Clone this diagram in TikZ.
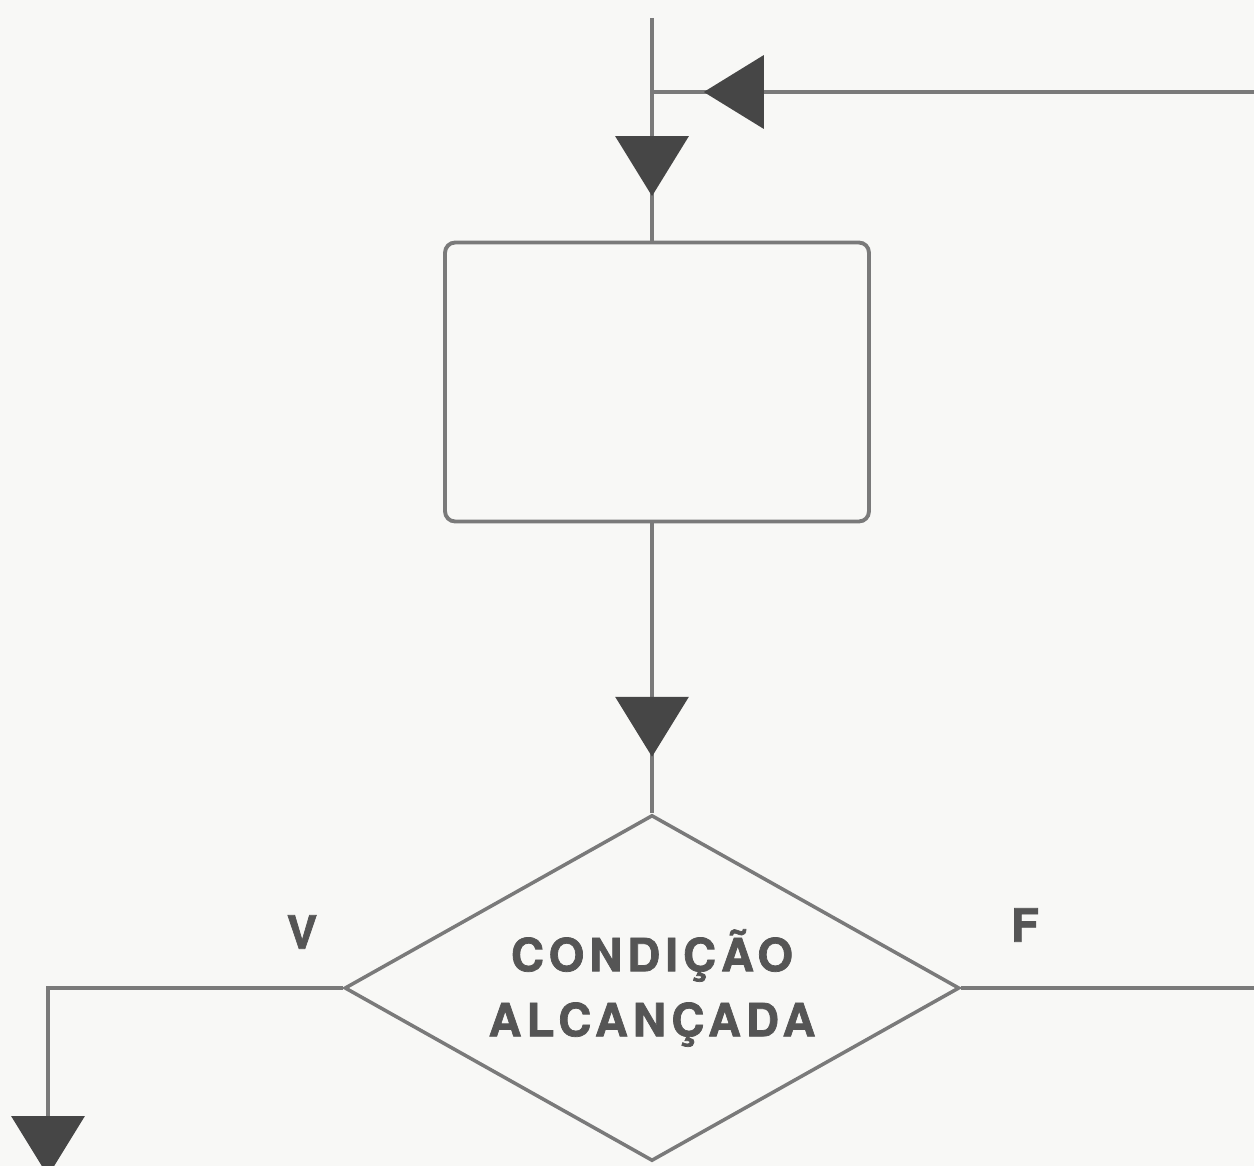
\documentclass[tikz,border=0pt]{standalone}
\usepackage{fontspec}
\setmainfont{TeX Gyre Heros}
\newfontfamily\spacedfont[LetterSpace=11, FakeBold=1.6]{TeX Gyre Heros}
\usepackage{tikz}
\usetikzlibrary{arrows.meta, shapes, positioning, decorations.markings}
\usepackage{color}
\definecolor{linegray}{RGB}{122,122,122}
\definecolor{tipgray}{RGB}{70,70,70}
\definecolor{inkgray}{RGB}{85,85,85}
\definecolor{paper}{RGB}{248,248,246}

\begin{document}
\begin{tikzpicture}[x=0.02cm, y=-0.02cm,
  flow/.style={draw=linegray, line width=2pt},
  midtip/.style={postaction={decorate, decoration={markings, mark=at position #1 with {\arrow{Triangle[width=1.46cm, length=1.2cm, color=tipgray]}}}}},
  endtip/.style={-{Triangle[width=1.46cm, length=1.2cm, color=tipgray]}},
  lbl/.style={text=inkgray, font=\spacedfont\fontsize{26}{37}\selectfont\bfseries}]
\path [fill=paper] (0,0) rectangle (1254,1166);
\useasboundingbox (0,0) rectangle (1254,1166);

\node (proc) [draw=linegray, line width=2.2pt, rounded corners=0.2cm, minimum width=8.48cm, minimum height=5.58cm] at (657,382) {};
\node (cond) [diamond, draw=linegray, line width=2pt, aspect=1.78, inner sep=0pt, minimum width=12.3cm, minimum height=6.92cm, lbl, align=center] at (652,988) {CONDIÇÃO\\ALCANÇADA};

\node (vlbl) [lbl] at (302,932) {V};
\node (flbl) [lbl] at (1025,925) {F};

\coordinate (top) at (652,18);
\coordinate (join) at (652,92);
\coordinate (fb) at (1254,92);
\coordinate (vout) at (48,1176);
\coordinate (fout) at (1254,988);

\draw [flow, midtip=0.8] (top) -- (top |- proc.north);
\draw [flow, midtip=0.914] (fb) -- (join);
\draw [flow, midtip=0.805] (proc.south -| cond.north) -- (cond.north);
\draw [flow, endtip] (cond.west) -| (vout);
\draw [flow] (cond.east) -- (fout);
\end{tikzpicture}
\end{document}
